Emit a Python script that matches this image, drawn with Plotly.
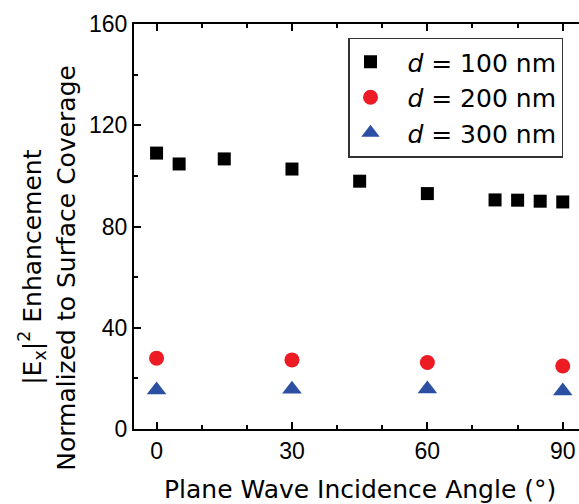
import plotly.graph_objects as go

# Data
angle_100 = [0, 5, 15, 30, 45, 60, 75, 80, 85, 90]
enh_100 = [109.0, 104.7, 106.7, 102.7, 97.9, 93.0, 90.5, 90.4, 90.0, 89.7]
angle_200 = [0, 30, 60, 90]
enh_200 = [28.0, 27.3, 26.3, 24.9]
angle_300 = [0, 30, 60, 90]
enh_300 = [15.4, 15.7, 15.8, 15.0]

labels = ["\u00a0\u00a0<i>d</i> = 100 nm", "\u00a0\u00a0<i>d</i> = 200 nm", "\u00a0\u00a0<i>d</i> = 300 nm"]
x_ticks = [0, 30, 60, 90]
y_ticks = [0, 40, 80, 120, 160]

TFONT = "DejaVu Sans"
TICKFONT = "Liberation Sans"
FS = 25

fig = go.Figure()
fig.add_trace(go.Scatter(x=angle_100, y=enh_100, mode="markers", name=labels[0],
                         marker=dict(symbol="square", size=13, color="#000000")))
fig.add_trace(go.Scatter(x=angle_200, y=enh_200, mode="markers", name=labels[1],
                         marker=dict(symbol="circle", size=15, color="#ED1C24")))
fig.add_trace(go.Scatter(x=angle_300, y=enh_300, mode="markers", name=labels[2],
                         marker=dict(symbol="triangle-up", size=17, color="#2A4FA3")))

axis_common = dict(showgrid=False, zeroline=False, showline=True, linecolor="black",
                   linewidth=2, ticks="inside", tickcolor="black", tickwidth=2,
                   ticklen=7, tickfont=dict(family=TICKFONT, size=23, color="black"))

fig.update_xaxes(range=[-5, 93.6], tickvals=x_ticks, mirror="ticks",
                 minor=dict(dtick=10, ticks="inside", ticklen=4, tickwidth=2, tickcolor="black"),
                 **axis_common)
fig.update_yaxes(range=[0, 160], tickvals=y_ticks, mirror=False,
                 minor=dict(dtick=20, ticks="inside", ticklen=4, tickwidth=2, tickcolor="black"),
                 **axis_common)

fig.add_annotation(text="Plane Wave Incidence Angle (°)", xref="paper", yref="paper",
                   x=0.507, y=-0.149, xanchor="center", yanchor="middle", showarrow=False,
                   font=dict(family=TFONT, size=FS, color="black"))
fig.add_annotation(text="|E<sub>x</sub>|<sup>2</sup> Enhancement", xref="paper", yref="paper",
                   x=(32 - 134) / 445, y=0.398, xanchor="center", yanchor="middle",
                   textangle=-90, showarrow=False,
                   font=dict(family=TFONT, size=FS, color="black"))
fig.add_annotation(text="Normalized to Surface Coverage", xref="paper", yref="paper",
                   x=(67 - 134) / 445, y=0.398, xanchor="center", yanchor="middle",
                   textangle=-90, showarrow=False,
                   font=dict(family=TFONT, size=FS, color="black"))

fig.update_layout(
    width=579, height=504,
    margin=dict(l=134, r=0, t=24, b=75),
    paper_bgcolor="white", plot_bgcolor="white",
    showlegend=True,
    legend=dict(x=(348 - 134) / 445, y=(429.5 - 38) / 405, xanchor="left", yanchor="top",
                bgcolor="white", bordercolor="#333333", borderwidth=1.5,
                font=dict(family=TFONT, size=FS, color="black"), itemwidth=32),
)

fig.write_html("out.html")
